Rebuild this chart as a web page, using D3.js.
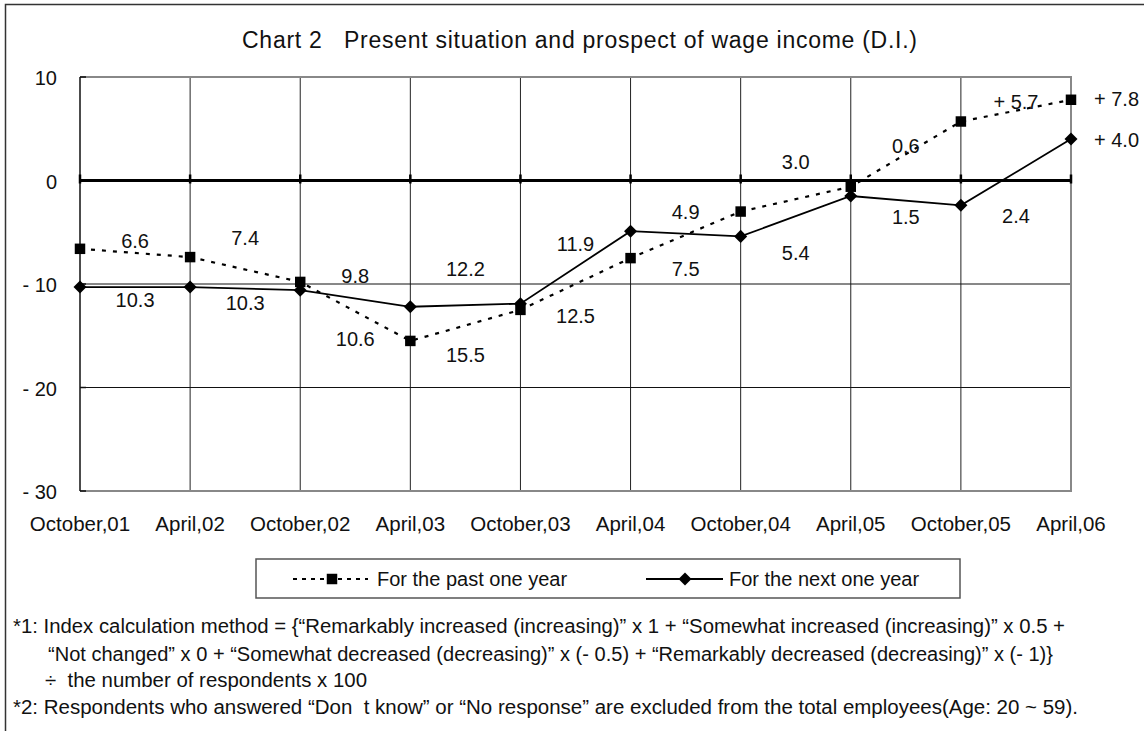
<!DOCTYPE html>
<html>
<head>
<meta charset="utf-8">
<title>Chart 2 Present situation and prospect of wage income (D.I.)</title>
<script src="https://d3js.org/d3.v7.min.js"></script>
<style>
  body { margin: 0; background: #fff; }
  svg text { font-family: "Liberation Sans", Arial, sans-serif; fill: #111; }
</style>
</head>
<body>
<div id="chart"></div>
<script>
// survey rounds
var periods = ["October,01", "April,02", "October,02", "April,03", "October,03",
               "April,04", "October,04", "April,05", "October,05", "April,06"];
// D.I. values
var pastYear = [-6.6, -7.4, -9.8, -15.5, -12.5, -7.5, -3.0, -0.6, 5.7, 7.8];
var nextYear = [-10.3, -10.3, -10.6, -12.2, -11.9, -4.9, -5.4, -1.5, -2.4, 4.0];
var yTicks = [10, 0, -10, -20, -30];
var seriesNames = ["For the past one year", "For the next one year"];

// where Excel left the data labels (in axis units)
var pastLabelY = [-6.0, -5.7, -9.4, -17.0, -13.3, -8.7, 1.65, 3.2, 7.4, 7.7];
var nextLabelY = [-11.75, -12.0, -15.5, -8.7, -6.3, -3.2, -7.2, -3.7, -3.6, 3.7];

var footnotes = [
  "*1: Index calculation method = {\u201CRemarkably increased (increasing)\u201D x 1 + \u201CSomewhat increased (increasing)\u201D x 0.5 +",
  "\u201CNot changed\u201D x 0 + \u201CSomewhat decreased (decreasing)\u201D x (- 0.5) + \u201CRemarkably decreased (decreasing)\u201D x (- 1)}",
  "\u00F7  the number of respondents x 100",
  "*2: Respondents who answered \u201CDon  t know\u201D or \u201CNo response\u201D are excluded from the total employees(Age: 20 ~ 59)."
];

var W = 1144, H = 731;
var svg = d3.select("#chart").append("svg")
    .attr("width", W).attr("height", H);

// outer frame (only left & top visible)
svg.append("path")
    .attr("d", "M5.5," + H + "V4.5H" + W)
    .attr("fill", "none").attr("stroke", "#333").attr("stroke-width", 1.5);

svg.append("text")
    .attr("x", 242).attr("y", 48)
    .attr("font-size", 23)
    .attr("textLength", 675).attr("lengthAdjust", "spacing")
    .text("Chart 2\u00A0\u00A0\u00A0Present situation and prospect of wage income (D.I.)");

var x = d3.scalePoint().domain(periods).range([80, 1071]);
var y = d3.scaleLinear().domain([-30, 10]).range([491, 77]);

var grid = svg.append("g");
// vertical gridlines
grid.selectAll(".vg").data(periods.slice(1, -1)).enter().append("line")
    .attr("x1", d => x(d)).attr("x2", d => x(d))
    .attr("y1", y(10)).attr("y2", y(-30))
    .attr("stroke", "#222").attr("stroke-width", 1);
// horizontal gridlines
grid.selectAll(".hg").data([-10, -20]).enter().append("line")
    .attr("x1", x(periods[0])).attr("x2", x(periods[9]))
    .attr("y1", d => y(d)).attr("y2", d => y(d))
    .attr("stroke", "#111").attr("stroke-width", 1);

// plot border: top, right, bottom grey
grid.append("path")
    .attr("d", "M" + x(periods[0]) + "," + y(10) + "H" + x(periods[9]) + "V" + y(-30) + "H" + x(periods[0]))
    .attr("fill", "none").attr("stroke", "#888").attr("stroke-width", 2);
// left axis
grid.append("line")
    .attr("x1", x(periods[0])).attr("x2", x(periods[0]))
    .attr("y1", y(10)).attr("y2", y(-30))
    .attr("stroke", "#111").attr("stroke-width", 1.5);
grid.selectAll(".yt").data(yTicks).enter().append("line")
    .attr("x1", x(periods[0])).attr("x2", x(periods[0]) + 6)
    .attr("y1", d => y(d)).attr("y2", d => y(d))
    .attr("stroke", "#111").attr("stroke-width", 1.5);

// zero line with its tick marks
grid.append("line")
    .attr("x1", x(periods[0])).attr("x2", x(periods[9]))
    .attr("y1", y(0)).attr("y2", y(0))
    .attr("stroke", "#000").attr("stroke-width", 3);
grid.selectAll(".zt").data(periods).enter().append("line")
    .attr("x1", d => x(d)).attr("x2", d => x(d))
    .attr("y1", y(0) - 6).attr("y2", y(0) + 3)
    .attr("stroke", "#000").attr("stroke-width", 2.5);

// y labels
svg.selectAll(".ylab").data(yTicks).enter().append("text")
    .attr("x", 57).attr("y", d => y(d) + 3)
    .attr("text-anchor", "end").attr("dominant-baseline", "middle")
    .attr("font-size", 20)
    .text(d => d < 0 ? "- " + Math.abs(d) : d);

// x labels
svg.selectAll(".xlab").data(periods).enter().append("text")
    .attr("x", d => x(d)).attr("y", 531)
    .attr("text-anchor", "middle")
    .attr("font-size", 20.5)
    .text(d => d);

var line = d3.line()
    .x((d, i) => x(periods[i]))
    .y(d => y(d));

svg.append("path").datum(pastYear)
    .attr("d", line).attr("fill", "none")
    .attr("stroke", "#000").attr("stroke-width", 2.2)
    .attr("stroke-dasharray", "4,7");
svg.append("path").datum(nextYear)
    .attr("d", line).attr("fill", "none")
    .attr("stroke", "#000").attr("stroke-width", 1.8);

var sq = d3.symbol().type(d3.symbolSquare).size(110);
var dia = d3.symbol().type(d3.symbolSquare).size(85);

svg.selectAll(".ps").data(pastYear).enter().append("path")
    .attr("d", sq)
    .attr("transform", (d, i) => "translate(" + x(periods[i]) + "," + y(d) + ")")
    .attr("fill", "#000");
svg.selectAll(".ns").data(nextYear).enter().append("path")
    .attr("d", dia)
    .attr("transform", (d, i) => "translate(" + x(periods[i]) + "," + y(d) + ") rotate(45)")
    .attr("fill", "#000");

// data labels sit halfway to the next survey; last ones to the right
var step = x.step();
function fmt(v) { return v < 0 ? Math.abs(v).toFixed(1) : "+ " + v.toFixed(1); }
function addLabels(vals, ly) {
  svg.append("g").selectAll("text").data(vals).enter().append("text")
      .attr("x", (d, i) => i < vals.length - 1 ? x(periods[i]) + step / 2 : x(periods[i]) + 23)
      .attr("y", (d, i) => y(ly[i]))
      .attr("text-anchor", (d, i) => i < vals.length - 1 ? "middle" : "start")
      .attr("dominant-baseline", "middle")
      .attr("font-size", 20)
      .text(fmt);
}
addLabels(pastYear, pastLabelY);
addLabels(nextYear, nextLabelY);

// legend
var lg = svg.append("g");
lg.append("rect").attr("x", 256).attr("y", 559).attr("width", 704).attr("height", 39)
    .attr("fill", "none").attr("stroke", "#555").attr("stroke-width", 1.5);
lg.append("line").attr("x1", 293).attr("x2", 368).attr("y1", 579).attr("y2", 579)
    .attr("stroke", "#000").attr("stroke-width", 2).attr("stroke-dasharray", "4,5");
lg.append("path").attr("d", sq).attr("transform", "translate(332,579)").attr("fill", "#000");
lg.append("text").attr("x", 377).attr("y", 586).attr("font-size", 20).text(seriesNames[0]);
lg.append("line").attr("x1", 646).attr("x2", 723).attr("y1", 579).attr("y2", 579)
    .attr("stroke", "#000").attr("stroke-width", 2);
lg.append("path").attr("d", dia).attr("transform", "translate(685,579) rotate(45)").attr("fill", "#000");
lg.append("text").attr("x", 729).attr("y", 586).attr("font-size", 20).text(seriesNames[1]);

// footnotes
var fx = [13, 48, 45, 13], fy = [633, 661, 687, 714], fw = [1052, 1005, 322, 1065];
svg.append("g").selectAll("text").data(footnotes).enter().append("text")
    .attr("x", (d, i) => fx[i]).attr("y", (d, i) => fy[i])
    .attr("font-size", 20)
    .attr("textLength", (d, i) => fw[i]).attr("lengthAdjust", "spacingAndGlyphs")
    .attr("xml:space", "preserve")
    .text(d => d);
</script>
</body>
</html>
